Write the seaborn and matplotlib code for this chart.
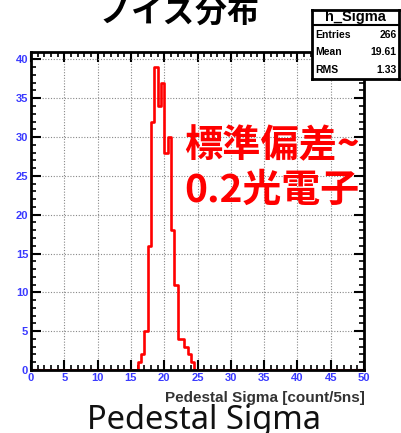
import numpy as np
import pandas as pd
import matplotlib
matplotlib.use("Agg")
import matplotlib.pyplot as plt
import seaborn as sns
from matplotlib.ticker import MultipleLocator

# ---- data ----
bin_width = 0.5
x_range = (0.0, 50.0)
first_filled_edge = 16.0
counts = [1, 2, 5, 16, 32, 39, 34, 37, 28, 30, 18, 11, 4, 4, 3, 2, 1]
x_ticks = [0, 5, 10, 15, 20, 25, 30, 35, 40, 45, 50]
y_ticks = [0, 5, 10, 15, 20, 25, 30, 35, 40]
y_max = 40.95
stat_names = ["Entries", "Mean", "RMS"]
stat_values = ["266", "19.61", "1.33"]
hist_name = "h_Sigma"
title = "ノイズ分布"
x_label = "Pedestal Sigma [count/5ns]"
caption = "Pedestal Sigma"
note_line1 = "標準偏差~"
note_line2 = "0.2光電子"

n_bins = int(round((x_range[1] - x_range[0]) / bin_width))
centers = x_range[0] + bin_width * (np.arange(n_bins) + 0.5)
weights = np.zeros(n_bins)
start = int(round((first_filled_edge - x_range[0]) / bin_width))
weights[start:start + len(counts)] = counts
df = pd.DataFrame({"sigma": centers, "n": weights})

W, H = 401, 433
fig = plt.figure(figsize=(W / 100, H / 100), dpi=100)
fig.patch.set_facecolor("white")

ax = fig.add_axes([31 / W, (H - 370) / H, (364 - 31) / W, (370 - 52) / H])
ax.set_facecolor("white")
ax.set_axisbelow(True)
sns.histplot(data=df, x="sigma", weights="n", binwidth=bin_width,
             binrange=x_range, element="step",
             fill=False, color="#ff0000", linewidth=1.9, ax=ax, zorder=3)

ax.set_xlim(*x_range)
ax.set_ylim(0, y_max)
ax.set_xlabel("")
ax.set_ylabel("")
ax.set_xticks(x_ticks, labels=[str(t) for t in x_ticks], fontweight="bold",
              family="Liberation Sans")
ax.set_yticks(y_ticks, labels=[str(t) for t in y_ticks], fontweight="bold",
              family="Liberation Sans")
ax.xaxis.set_minor_locator(MultipleLocator(1))
ax.yaxis.set_minor_locator(MultipleLocator(1))
ax.tick_params(which="major", direction="in", length=7, width=1.5,
               top=True, right=True, labelsize=8, labelcolor="#3a3aff",
               color="black", pad=2)
ax.tick_params(which="minor", direction="in", length=3.5, width=1.2,
               top=True, right=True, color="black")
ax.grid(True, which="major", linestyle=(0, (1, 1.5)), color="#888888",
        linewidth=0.8)
for s in ax.spines.values():
    s.set_linewidth(2)
    s.set_color("black")
    s.set_zorder(4)

# axis label (ROOT style, right aligned)
fig.text(365 / W, 1 - 398 / H, x_label, ha="right", va="center",
         fontsize=11, fontweight="bold", color="#333333",
         family="Liberation Sans")

# big caption at the bottom
fig.text(204 / W, 1 - 429 / H, caption, ha="center", va="baseline",
         fontsize=23.5, color="#111111", family="Noto Sans")

# title (partly cut off at top, as in the reference)
fig.text(180 / W, 1 - 22 / H, title, ha="center", va="baseline",
         fontsize=23, fontweight="bold", color="black",
         family=["Noto Sans CJK JP", "DejaVu Sans"])

# red annotation
fig.text(184 / W, 1 - 157 / H, note_line1, ha="left", va="baseline",
         fontsize=27.5, fontweight="bold", color="#ff0000",
         family=["Noto Sans CJK JP", "DejaVu Sans"])
fig.text(184 / W, 1 - 202 / H, note_line2, ha="left", va="baseline",
         fontsize=28, fontweight="bold", color="#ff0000",
         family=["Noto Sans CJK JP", "DejaVu Sans"])

# stats box
sb = fig.add_axes([312 / W, 1 - 79 / H, (399 - 312) / W, (79 - 10) / H])
sb.set_xlim(0, 1)
sb.set_ylim(0, 1)
sb.set_xticks([])
sb.set_yticks([])
sb.set_facecolor("white")
for s in sb.spines.values():
    s.set_linewidth(2)
    s.set_color("black")
div = 1 - (25 - 10) / (79 - 10)
sb.axhline(div, color="black", linewidth=1.5)
sb.text(0.5, (1 + div) / 2, hist_name, ha="center", va="center",
        fontsize=10.5, fontweight="bold", family="Liberation Sans")
row_y = [35, 52, 70]
for name, val, yy in zip(stat_names, stat_values, row_y):
    fy = 1 - (yy - 10) / (79 - 10)
    sb.text(0.04, fy, name, ha="left", va="center", fontsize=7.5,
            fontweight="bold", family="Liberation Sans")
    sb.text(0.97, fy, val, ha="right", va="center", fontsize=7.5,
            fontweight="bold", family="Liberation Sans")

fig.savefig("out.png", dpi=100, facecolor="white")
